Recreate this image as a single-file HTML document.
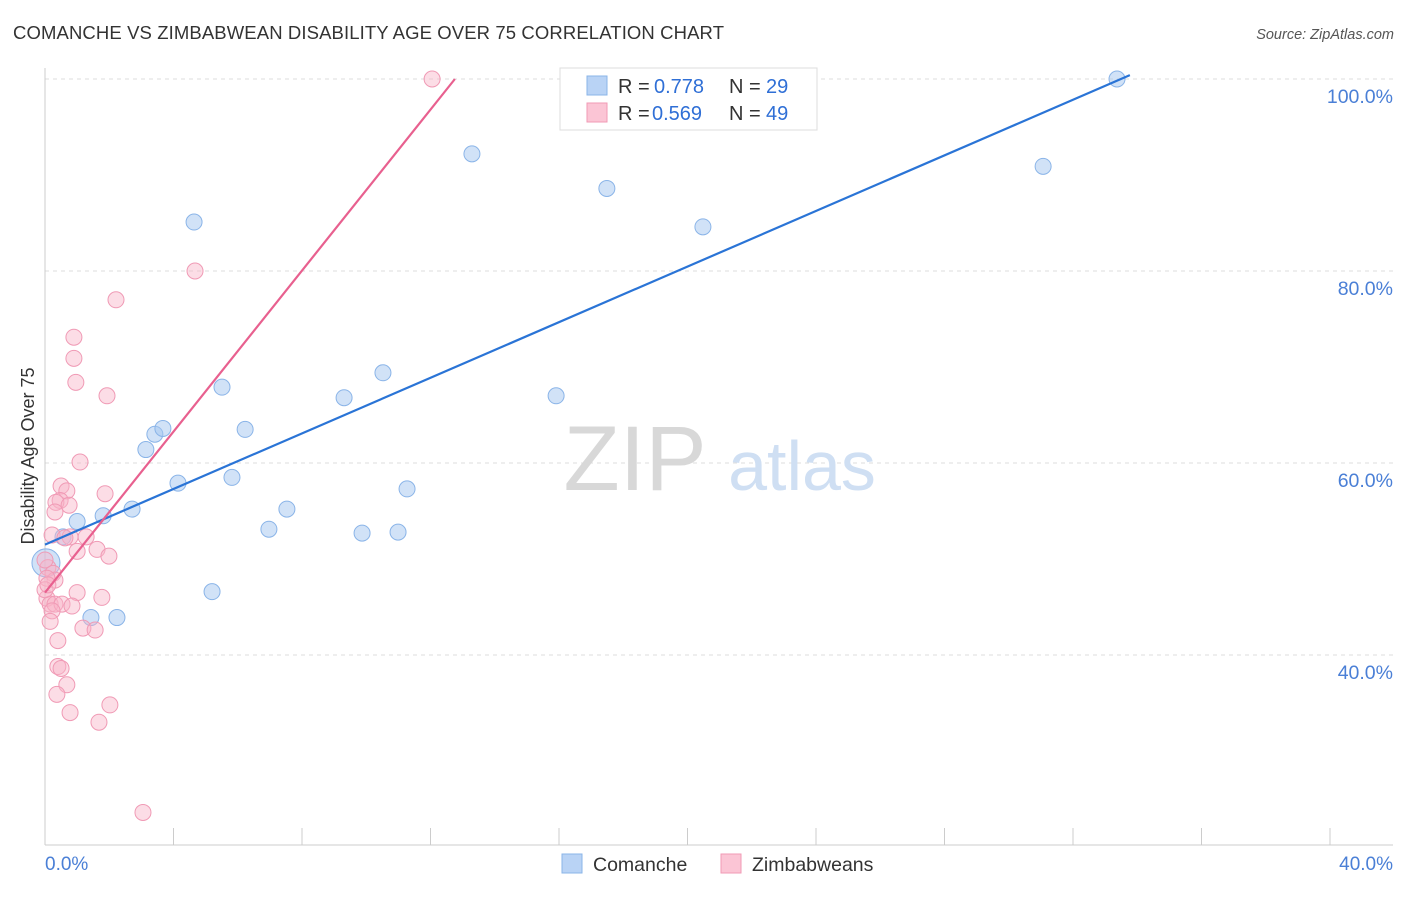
<!DOCTYPE html>
<html><head><meta charset="utf-8"><style>
body{margin:0;background:#fff;font-family:"Liberation Sans",sans-serif;}
svg text{font-family:"Liberation Sans",sans-serif;}
</style></head><body>
<svg id="chart" width="1406" height="892" viewBox="0 0 1406 892" xmlns="http://www.w3.org/2000/svg">
<text x="13" y="39" font-size="18.5" fill="#333" textLength="711">COMANCHE VS ZIMBABWEAN DISABILITY AGE OVER 75 CORRELATION CHART</text>
<text x="1394" y="39" font-size="14.5" fill="#555" font-style="italic" text-anchor="end">Source: ZipAtlas.com</text>
<g id="grid"></g>
<g><text x="635" y="490" font-size="92" fill="#d8d8d8" font-family="Liberation Serif" text-anchor="middle">ZIP</text><text x="802" y="490" font-size="70" fill="#cfdff3" text-anchor="middle">atlas</text></g>
<line x1="45" y1="68" x2="45" y2="845" stroke="#ccc"/>
<line x1="45" y1="845" x2="1393" y2="845" stroke="#ccc"/>
<g id="xticks"></g>
<text x="45" y="870" font-size="19" fill="#4a7fd6">0.0%</text>
<text x="1393" y="870" font-size="19" fill="#4a7fd6" text-anchor="end">40.0%</text>
<text transform="translate(34,456) rotate(-90)" font-size="18" fill="#333" text-anchor="middle">Disability Age Over 75</text>
<g id="pts"></g>
<g id="lines"></g>
<g>
<rect x="560" y="68" width="257" height="62" fill="#fff" stroke="#ddd"/>
<rect x="587" y="76" width="20" height="19" fill="#b9d3f5" stroke="#8ab4e8"/>
<rect x="587" y="103" width="20" height="19" fill="#fbc5d5" stroke="#f09ab5"/>
<text x="618" y="93" font-size="20" fill="#333">R = </text><text x="654" y="93" font-size="20" fill="#2f6fd6">0.778</text>
<text x="729" y="93" font-size="20" fill="#333">N = </text><text x="766" y="93" font-size="20" fill="#2f6fd6">29</text>
<text x="618" y="120" font-size="20" fill="#333">R = </text><text x="652" y="120" font-size="20" fill="#2f6fd6">0.569</text>
<text x="729" y="120" font-size="20" fill="#333">N = </text><text x="766" y="120" font-size="20" fill="#2f6fd6">49</text>
</g>
<g>
<rect x="562" y="854" width="20" height="19" fill="#b9d3f5" stroke="#8ab4e8"/>
<text x="593" y="871" font-size="19.5" fill="#333">Comanche</text>
<rect x="721" y="854" width="20" height="19" fill="#fbc5d5" stroke="#f09ab5"/>
<text x="752" y="871" font-size="19.5" fill="#333">Zimbabweans</text>
</g>
</svg>
<script>
const yTicks=[100,80,60,40];
const xTicks=[0,4,8,12,16,20,24,28,32,36,40];
const blueX=[0.03,0.56,1.0,1.81,2.71,1.43,2.24,3.14,3.42,3.67,4.14,4.64,5.2,5.51,5.82,6.23,6.97,7.53,9.31,9.87,10.52,10.99,11.27,13.29,15.91,17.49,20.48,31.07,33.37];
const blueY=[49.6,52.3,53.9,54.5,55.2,43.9,43.9,61.4,63.0,63.6,57.9,85.1,46.6,67.9,58.5,63.5,53.1,55.2,66.8,52.7,69.4,52.8,57.3,92.2,67.0,88.6,84.6,90.9,100];
const pinkX=[12.05,4.67,2.21,0.9,0.9,0.96,1.93,1.09,1.87,0.5,0.68,0.47,0.34,0.75,0.31,0.22,0.78,1.28,1.62,1.0,1.99,0.09,0.25,0.31,0.06,1.0,1.77,0.06,0.16,0.31,0.53,0.84,0.22,0.16,1.18,1.56,0.4,0.4,0.5,0.68,0.37,2.02,0.78,1.68,3.05,0,0.09,0,0.62];
const pinkY=[100,80.0,77.0,73.1,70.9,68.4,67.0,60.1,56.8,57.6,57.1,56.1,55.9,55.6,54.9,52.5,52.3,52.3,51.0,50.8,50.3,49.1,48.5,47.8,48.0,46.5,46.0,45.9,45.3,45.3,45.3,45.1,44.6,43.5,42.8,42.6,41.5,38.8,38.6,36.9,35.9,34.8,34.0,33.0,23.6,46.8,47.3,49.9,52.2];
const blueLine=[0,51.5,33.77,100.4];
const pinkLine=[0,46.5,12.76,100];
const X=v=>45+v*32.125, Y=v=>79+(100-v)*9.6;
const NS="http://www.w3.org/2000/svg";
const mk=(t,a,p)=>{const e=document.createElementNS(NS,t);for(const k in a)e.setAttribute(k,a[k]);p.appendChild(e);return e;};
const grid=document.getElementById('grid');
yTicks.forEach(v=>{
 const l=mk('line',{x1:45,x2:1393,y1:Y(v),y2:Y(v),stroke:'#ddd','stroke-dasharray':'4,4'},grid);
 
 
 const t=mk('text',{x:1393,y:Y(v)+24,'font-size':19.5,fill:'#4a7fd6','text-anchor':'end'},grid);
 t.textContent=v.toFixed(1)+'%';
 
 
});
const xt=document.getElementById('xticks');
xTicks.forEach(v=>{
 const l=mk('line',{x1:X(v),x2:X(v),y1:828,y2:845,stroke:'#ccc'},xt);
 
 
});
const pts=document.getElementById('pts');
blueX.forEach((x,i)=>{
 const c=mk('circle',{cx:X(x),cy:Y(blueY[i]),r:i==0?14:8,fill:'rgba(164,198,240,0.5)',stroke:'#8ab4e8','stroke-width':1},pts);
 
 
});
pinkX.forEach((x,i)=>{
 const c=mk('circle',{cx:X(x),cy:Y(pinkY[i]),r:8,fill:'rgba(248,180,200,0.45)',stroke:'#f09ab5','stroke-width':1},pts);
 
 
});
const lg=document.getElementById('lines');
const bl=mk('line',{x1:X(blueLine[0]),y1:Y(blueLine[1]),x2:X(blueLine[2]),y2:Y(blueLine[3]),stroke:'#2a74d6','stroke-width':2.2},lg);


const pl=mk('line',{x1:X(pinkLine[0]),y1:Y(pinkLine[1]),x2:X(pinkLine[2]),y2:Y(pinkLine[3]),stroke:'#e8608f','stroke-width':2.2},lg);


</script>
</body></html>
